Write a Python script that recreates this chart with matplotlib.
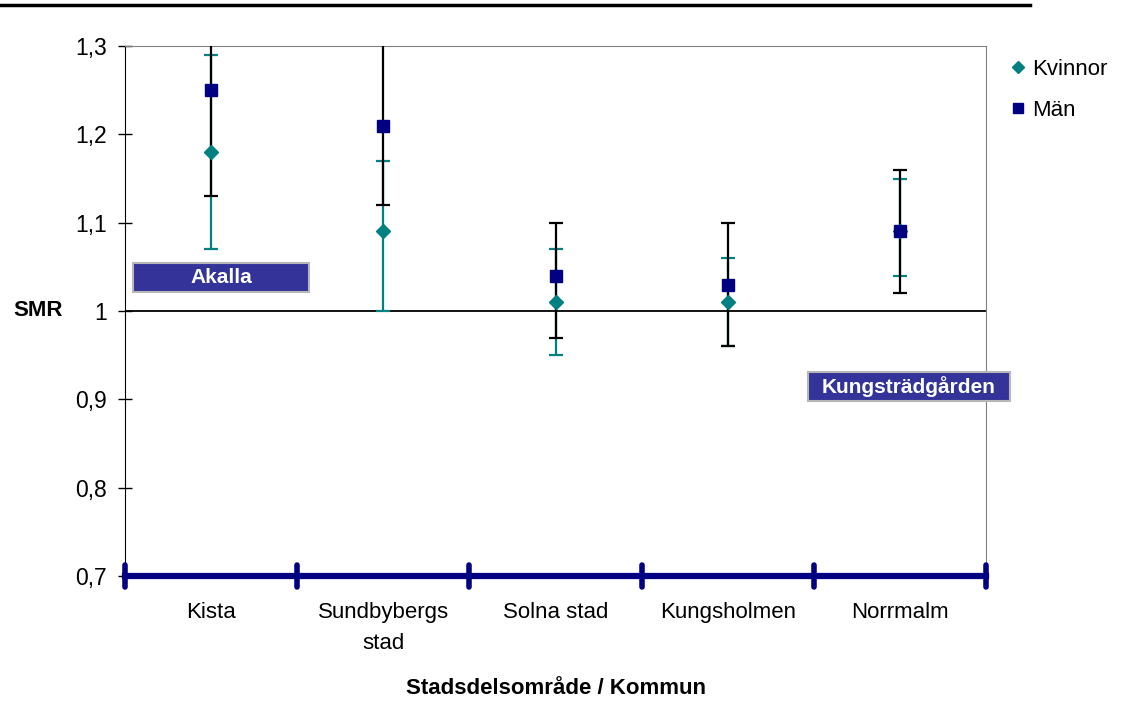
import numpy as np
import matplotlib.pyplot as plt
from matplotlib.lines import Line2D
from matplotlib.patches import Rectangle

plt.rcParams['font.family'] = ['Liberation Sans', 'DejaVu Sans']

# --- data -------------------------------------------------------------
omraden = ['Kista', 'Sundbybergs\nstad', 'Solna stad', 'Kungsholmen', 'Norrmalm']

kvinnor = [1.18, 1.09, 1.01, 1.01, 1.09]
kvinnor_lo = [1.07, 1.00, 0.95, 0.96, 1.04]
kvinnor_hi = [1.29, 1.17, 1.07, 1.06, 1.15]

man = [1.25, 1.21, 1.04, 1.03, 1.09]
man_lo = [1.13, 1.12, 0.97, 0.96, 1.02]
man_hi = [1.38, 1.33, 1.10, 1.10, 1.16]

yticks = [0.7, 0.8, 0.9, 1.0, 1.1, 1.2, 1.3]
ytick_labels = ['0,7', '0,8', '0,9', '1', '1,1', '1,2', '1,3']

TEAL = '#008080'
NAVY = '#000080'
BOX = '#333399'

W, H = 1124, 704

# --- figure -----------------------------------------------------------
fig = plt.figure(figsize=(W / 100, H / 100), dpi=100)
ax = fig.add_axes([125 / W, 1 - 576 / H, (986 - 125) / W, (576 - 46) / H])

x = np.arange(len(omraden)) + 0.5
k = np.array(kvinnor)
m = np.array(man)

ax.errorbar(x, k, yerr=[k - np.array(kvinnor_lo), np.array(kvinnor_hi) - k],
            fmt='none', ecolor=TEAL, elinewidth=1.6, capsize=5, capthick=1.6, zorder=3)
ax.errorbar(x, m, yerr=[m - np.array(man_lo), np.array(man_hi) - m],
            fmt='none', ecolor='black', elinewidth=1.6, capsize=5, capthick=1.6, zorder=4)
ax.plot(x, k, 'D', color=TEAL, markersize=7, zorder=5)
ax.plot(x, m, 's', color=NAVY, markersize=8, zorder=6)

ax.axhline(1.0, color='black', lw=1.3, zorder=2)

ax.set_xlim(0, len(omraden))
ax.set_ylim(0.7, 1.3)

# y axis
ax.set_yticks(yticks)
ax.set_yticklabels(ytick_labels, fontsize=16.5)
ax.tick_params(axis='y', direction='inout', length=10, width=1, pad=8)

# x axis: thick navy baseline with ticks at category boundaries
ax.set_xticks(x)
ax.set_xticklabels(omraden, fontsize=16, linespacing=1.6)
ax.tick_params(axis='x', length=0, pad=19)
ax.axhline(0.7, color=NAVY, lw=4.5, zorder=7, clip_on=False)
for b in range(len(omraden) + 1):
    ax.add_line(Line2D([b, b], [0.688, 0.712], color=NAVY, lw=4,
                       solid_capstyle='round', clip_on=False, zorder=8))

for side in ['top', 'right']:
    ax.spines[side].set_color('#808080')
ax.spines['left'].set_color('black')
ax.spines['bottom'].set_visible(False)

ax.set_xlabel('Stadsdelsområde / Kommun', fontsize=16, fontweight='bold', labelpad=17)
fig.text(38 / W, 1 - 311 / H, 'SMR', fontsize=16, fontweight='bold',
         ha='center', va='center')


# labelled boxes
def label_box(x0, y0, x1, y1, txt):
    fig.add_artist(Rectangle((x0 / W, 1 - y1 / H), (x1 - x0) / W, (y1 - y0) / H,
                             facecolor=BOX, edgecolor='#b8b8b8', lw=1.5,
                             transform=fig.transFigure, zorder=10))
    fig.text((x0 + x1) / 2 / W, 1 - (y0 + y1) / 2 / H, txt, color='white',
             fontsize=15, fontweight='bold', ha='center', va='center', zorder=11)


label_box(133, 263, 309, 292, 'Akalla')
label_box(808, 372, 1010, 401, 'Kungsträdgården')

# legend
handles = [Line2D([], [], marker='D', color=TEAL, ls='none', markersize=6),
           Line2D([], [], marker='s', color=NAVY, ls='none', markersize=7)]
fig.legend(handles, ['Kvinnor', 'Män'], loc='upper left',
           bbox_to_anchor=(1011 / W, 1 - 59 / H), frameon=False,
           fontsize=16, handlelength=0.6, handletextpad=0.35, labelspacing=0.9,
           borderaxespad=0, borderpad=0)

# top rule
fig.add_artist(Line2D([0, 1030 / W], [1 - 5 / H, 1 - 5 / H],
                      color='black', lw=2.5, transform=fig.transFigure))

fig.savefig('out.png', dpi=100)
